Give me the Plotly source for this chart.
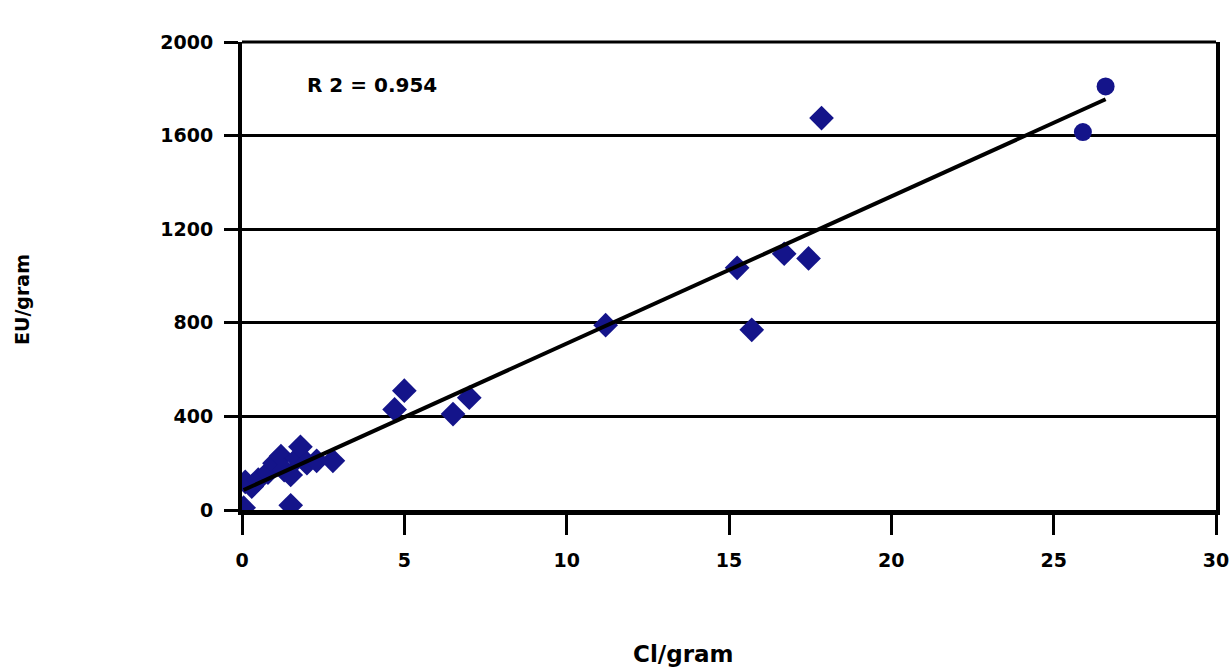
import numpy as np
import plotly.graph_objects as go

# Diamond data points (Cl/gram, EU/gram)
ci_diamond = [0.05, 0.1, 0.3, 0.5, 0.8, 1.0, 1.2, 1.3, 1.5, 1.5, 1.7, 1.8, 2.0, 2.3, 2.8,
              4.7, 5.0, 6.5, 7.0, 11.2, 15.25, 15.7, 16.7, 17.45, 17.85]
eu_diamond = [10, 120, 100, 130, 160, 200, 230, 170, 20, 150, 220, 270, 200, 210, 210,
              430, 510, 410, 480, 790, 1035, 770, 1095, 1075, 1675]
# Circle-looking data points
ci_circle = [26.6, 25.9]
eu_circle = [1810, 1615]

r2_label = "R 2 = 0.954"
x_ticks = [0, 5, 10, 15, 20, 25, 30]
y_ticks = [0, 400, 800, 1200, 1600, 2000]

all_x = np.array(ci_diamond + ci_circle)
all_y = np.array(eu_diamond + eu_circle)
slope, intercept = np.polyfit(all_x, all_y, 1)
fit_x = np.array([all_x.min(), all_x.max()])
fit_y = slope * fit_x + intercept

navy = "#14148a"
fig = go.Figure()
fig.add_trace(go.Scatter(x=ci_diamond, y=eu_diamond, mode="markers",
                         marker=dict(symbol="diamond", size=19, color=navy), showlegend=False))
fig.add_trace(go.Scatter(x=ci_circle, y=eu_circle, mode="markers",
                         marker=dict(symbol="circle", size=18, color=navy), showlegend=False))
fig.add_trace(go.Scatter(x=fit_x, y=fit_y, mode="lines",
                         line=dict(color="black", width=4), showlegend=False))

font = "DejaVu Sans, Verdana, sans-serif"
fig.update_layout(
    width=1231, height=669,
    margin=dict(l=242, r=2, t=42, b=159),
    paper_bgcolor="white", plot_bgcolor="white",
    font=dict(family=font, color="black"),
    xaxis=dict(range=[0, 30], tickvals=x_ticks, showgrid=False, zeroline=False,
               showline=True, linecolor="black", linewidth=5,
               ticks="outside", ticklen=20, tickwidth=3, tickcolor="black",
               ticklabelstandoff=9, ticklabeloverflow="allow",
               tickfont=dict(family=font, size=19, color="black", weight="bold")),
    yaxis=dict(range=[0, 2000], tickvals=y_ticks, showgrid=True, gridcolor="black", gridwidth=3,
               zeroline=False, showline=True, mirror=True, linecolor="black", linewidth=4,
               ticks="outside", ticklen=14, tickwidth=3, tickcolor="black",
               ticklabelstandoff=7,
               tickfont=dict(family=font, size=19, color="black", weight="bold")),
    shapes=[dict(type="line", xref="paper", yref="paper", x0=0, x1=1, y0=1, y1=1,
                 line=dict(color="black", width=3))],
    annotations=[
        dict(x=1.94, y=1816, xref="x", yref="y", text=r2_label, showarrow=False,
             xanchor="left", yanchor="middle",
             font=dict(family=font, size=20, color="black", weight="bold")),
        dict(x=(683 - 242) / 974, y=(510 - 654) / 468, xref="paper", yref="paper",
             text="Cl/gram", showarrow=False, xanchor="center", yanchor="middle",
             font=dict(family=font, size=23, color="black", weight="bold")),
        dict(x=(22 - 242) / 974, y=(510 - 300) / 468, xref="paper", yref="paper",
             text="EU/gram", showarrow=False, textangle=-90, xanchor="center", yanchor="middle",
             font=dict(family=font, size=19, color="black", weight="bold")),
    ],
)
fig.write_html("out.html", config={"displayModeBar": False},
               post_script="document.body.style.margin='0';document.body.style.overflow='hidden';")
